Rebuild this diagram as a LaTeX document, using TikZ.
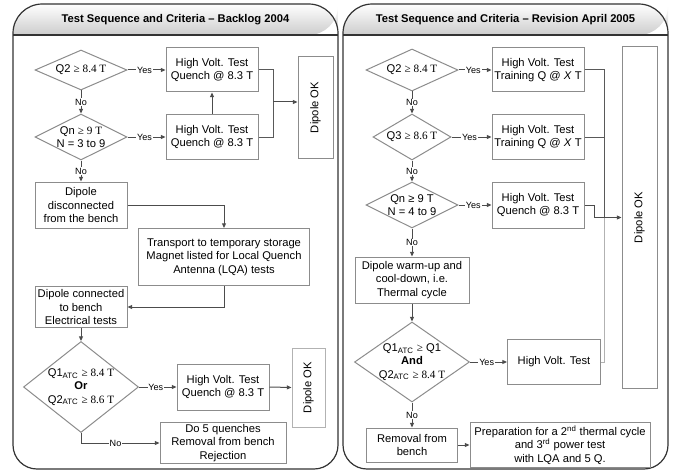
\documentclass[tikz,border=0pt]{standalone}
\usepackage{fontspec}
\setmainfont{Liberation Sans}
\newfontfamily\timesFont{Liberation Serif}
\usetikzlibrary{arrows.meta}
\usetikzlibrary{shapes.geometric}
\newcommand{\geqT}[1]{{\timesFont ≥ #1}}
\newcommand{\atc}{\textsubscript{ATC}}
\newcommand{\panelFrame}[4]{%%
  %% The shaded header band.
  \shade[top color=white,bottom color=black!20] (#1,\yhead) [rounded corners=\rtop pt] -- (#1,\ytop) -- (#2,\ytop) -- (#2,\yhead) [sharp corners] -- cycle;
  \draw[frameStyle] (#1,\yhead) -- (#2,\yhead);
  %% The outline of the panel.
  \draw[frameStyle] (#1,200) [rounded corners=\rtop pt] -- (#1,\ytop) -- (#2,\ytop) -- (#2,200) [rounded corners=\rbottom pt] -- (#2,\ybottom) -- (#1,\ybottom) -- cycle;
  \node[titleStyle] (#3) at ({(#1+#2)/2},{(\ytop+\yhead)/2}) {#4};
}
\newcommand{\decision}[5]{%%
  \node[decisionStyle={#3}{#4},label={[align=center]center:{#5}}] (#1) at (#2) {};
}
\newcommand{\dipoleOK}[5]{%%
  \node[boxStyle={#3}{#4},#5,label={[rotate=90]center:Dipole OK}] (#1) at (#2) {};
}
\begin{document}
\begin{tikzpicture}[%%
  x=0.75pt,y=-0.75pt,%%
  font=\fontsize{8.4}{10}\selectfont,%%
  frameStyle/.style={draw=black!80,line width=0.9pt},%%
  lineStyle/.style={-,draw=black!65,line width=0.75pt},%%
  faintStyle/.style={-,draw=black!30,line width=0.75pt},%%
  arrowStyle/.style={-{Triangle[length=3.5pt,width=3pt]},draw=black!70,line width=0.75pt},%%
  boxStyle/.style 2 args={draw=black!45,fill=white,line width=0.75pt,inner sep=1pt,align=center,minimum width=#1*0.75pt,minimum height=#2*0.75pt},%%
  decisionStyle/.style 2 args={diamond,draw=black!45,fill=white,line width=0.75pt,inner sep=0pt,minimum width=#1*0.75pt,minimum height=#2*0.75pt},%%
  answerStyle/.style={fill=white,inner sep=0.6pt,font=\fontsize{6.8}{8}\selectfont},%%
  titleStyle/.style={font=\fontsize{8.4}{10}\selectfont\bfseries}%%
]
%%
%%
\pgfmathsetmacro{\ytop}{4}
\pgfmathsetmacro{\yhead}{35}
\pgfmathsetmacro{\ybottom}{469}
\pgfmathsetmacro{\rtop}{22}
\pgfmathsetmacro{\rbottom}{18}
\useasboundingbox (0,0) rectangle (673,474);
%% The two panels.
\panelFrame{13}{338}{titleL}{Test Sequence and Criteria – Backlog 2004}
\panelFrame{343}{668}{titleR}{Test Sequence and Criteria – Revision April 2005}
%%
%% Backlog 2004.
\decision{q2L}{81,70}{92}{40}{Q2 \geqT{8.4 T}}
\decision{qnL}{81,137}{92}{46}{Qn \geqT{9 T}\\N = 3 to 9}
\node[boxStyle={92}{44}] (hv1L) at (212,70) {High Volt. Test\\Quench @ 8.3 T};
\node[boxStyle={92}{45}] (hv2L) at (212,137) {High Volt. Test\\Quench @ 8.3 T};
\dipoleOK{okL}{315.5,107.5}{35}{101}{}
\node[boxStyle={92}{46}] (discL) at (81,205) {Dipole\\disconnected\\from the bench};
\node[boxStyle={171}{57}] (transL) at (224,257) {Transport to temporary storage\\Magnet listed for Local Quench\\Antenna (LQA) tests};
\node[boxStyle={92}{41}] (connL) at (81,307) {Dipole connected\\to bench\\Electrical tests};
\decision{atcL}{81,387}{115}{91}{Q1\atc{} \geqT{8.4 T}\\\textbf{Or}\\Q2\atc{} \geqT{8.6 T}}
\node[boxStyle={92}{46}] (hv3L) at (223,387) {High Volt. Test\\Quench @ 8.3 T};
\dipoleOK{ok2L}{308.5,387.5}{33}{79}{draw=black!30}
\node[boxStyle={126}{41}] (rejL) at (223,443) {Do 5 quenches\\Removal from bench\\Rejection};
\coordinate (joinL) at (273,102);
%% Connectors.
\draw[arrowStyle] (q2L.east) -- node[answerStyle,pos=0.45]{Yes} (hv1L.west);
\draw[arrowStyle] (q2L.south) -- node[answerStyle]{No} (qnL.north);
\draw[arrowStyle] (qnL.east) -- node[answerStyle,pos=0.45]{Yes} (hv2L.west);
\draw[arrowStyle] (hv2L.north) -- (hv1L.south);
\draw[lineStyle] (hv1L.east) -| (joinL);
\draw[lineStyle] (hv2L.east) -| (joinL);
\draw[arrowStyle] (joinL) -- (joinL -| okL.west);
\draw[arrowStyle] (qnL.south) -- node[answerStyle]{No} (discL.north);
\draw[arrowStyle] (discL.east) -| (transL.north);
\draw[arrowStyle] (transL.south) |- (connL.east);
\draw[arrowStyle] (connL.south) -- (atcL.north);
\draw[arrowStyle] (atcL.east) -- node[answerStyle,pos=0.45]{Yes} (hv3L.west);
\draw[arrowStyle] (hv3L.east) -- (ok2L.west);
\draw[arrowStyle] (atcL.south) |- node[answerStyle,pos=0.72]{No} (rejL.west);
%%
%% Revision April 2005.
\decision{q2R}{412,70}{92}{42}{Q2 \geqT{8.4 T}}
\decision{q3R}{412,137}{78}{46}{Q3 \geqT{8.6 T}}
\decision{qnR}{412,205}{92}{46}{Qn ≥ 9 T\\N = 4 to 9}
\node[boxStyle={92}{44}] (hv1R) at (538,70) {High Volt. Test\\Training Q @ \textit{X} T};
\node[boxStyle={92}{45}] (hv2R) at (538,137) {High Volt. Test\\Training Q @ \textit{X} T};
\node[boxStyle={92}{46}] (hv3R) at (538,205) {High Volt. Test\\Quench @ 8.3 T};
\dipoleOK{okR}{639.5,217.5}{35}{341}{}
\node[boxStyle={114}{46}] (warmR) at (412,280) {Dipole warm-up and\\cool-down, i.e.\\Thermal cycle};
\decision{atcR}{412,362}{115}{80}{Q1\atc{} {\timesFont ≥} Q1\\\textbf{And}\\Q2\atc{} \geqT{8.4 T}}
\node[boxStyle={93}{45}] (hvR) at (554,362) {High Volt. Test};
\node[boxStyle={91}{34}] (remR) at (412,445) {Removal from\\bench};
\node[boxStyle={180}{45}] (prepR) at (560,445) {Preparation for a 2\textsuperscript{nd} thermal cycle\\and 3\textsuperscript{rd} power test\\with LQA and 5 Q.};
\coordinate (railR) at (604,217.5);
\coordinate (stepR) at (594,205);
%% Connectors.
\draw[arrowStyle] (q2R.east) -- node[answerStyle,pos=0.45]{Yes} (hv1R.west);
\draw[arrowStyle] (q2R.south) -- node[answerStyle]{No} (q3R.north);
\draw[arrowStyle] (q3R.east) -- node[answerStyle,pos=0.45]{Yes} (hv2R.west);
\draw[arrowStyle] (q3R.south) -- node[answerStyle]{No} (qnR.north);
\draw[arrowStyle] (qnR.east) -- node[answerStyle,pos=0.45]{Yes} (hv3R.west);
\draw[arrowStyle] (qnR.south) -- node[answerStyle]{No} (warmR.north);
\draw[arrowStyle] (warmR.south) -- (atcR.north);
\draw[arrowStyle] (atcR.east) -- node[answerStyle,pos=0.45]{Yes} (hvR.west);
\draw[arrowStyle] (atcR.south) -- node[answerStyle]{No} (remR.north);
\draw[arrowStyle] (remR.east) -- (prepR.west);
\draw[faintStyle] (hvR.east) -| (railR);
\draw[lineStyle] (hv1R.east) -| (railR);
\draw[lineStyle] (hv2R.east) -- (hv2R.east -| railR);
\draw[arrowStyle] (hv3R.east) -- (stepR) |- (okR.west);
\end{tikzpicture}
\end{document}
